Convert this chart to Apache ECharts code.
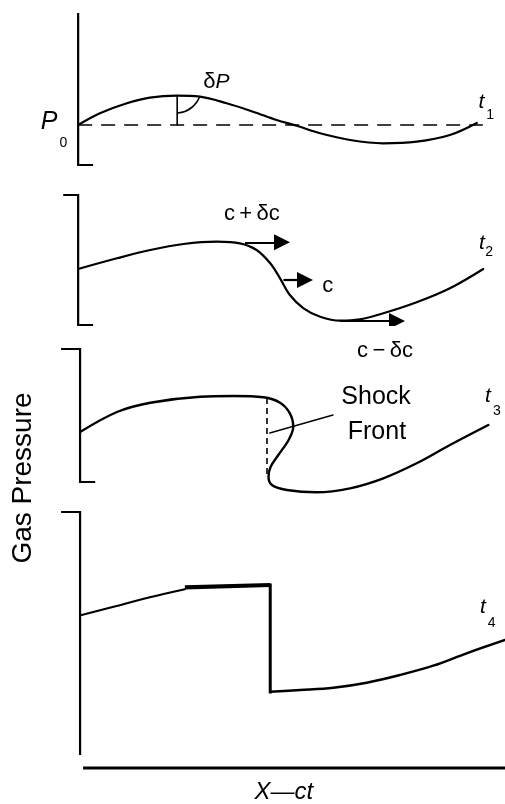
<!DOCTYPE html>
<html>
<head>
<meta charset="utf-8">
<script src="https://cdn.jsdelivr.net/npm/echarts@6/dist/echarts.min.js"></script>
<style>
  html, body { margin: 0; padding: 0; background: #ffffff; }
  #chart { width: 505px; height: 804px; }
</style>
</head>
<body>
<div id="chart"></div>
<script>
// Pressure profiles of a finite-amplitude sound wave steepening into a shock,
// plotted against X - ct at four successive times t1..t4.
// x: position (X - ct), y: gas pressure (arbitrary units, one scale per panel).

// t1: small sinusoidal disturbance about P0
const wave1 = [
  [0, 0], [5.1, 1.17], [11.4, 2.17], [16.8, 2.73], [23.1, 2.93], [28.5, 2.83],
  [34.8, 2.17], [41.0, 1.33], [46.5, 0.5], [51.2, -0.07], [56.7, -0.83],
  [63.7, -1.5], [71.4, -1.83], [79.3, -1.67], [87.1, -1.0], [93.4, 0.2]
];
const baseline1 = [[0, 0], [94.8, 0]];
const deltaPBar = [[23.2, 0], [23.2, 2.93]];
const deltaPArc = [[23.3, 1.2], [25.0, 1.35], [26.6, 1.75], [27.8, 2.3], [28.5, 2.85]];

// t2: crest overtaking the trough
const wave2 = [
  [0, 5.6], [9.1, 6.67], [16.9, 7.5], [24.7, 8.1], [32.5, 8.33], [37.9, 8.17],
  [41.8, 7.5], [45.0, 6.17], [47.3, 4.67], [49.6, 3.0], [52.8, 1.67],
  [56.7, 0.83], [61.4, 0.43], [66.0, 0.57], [71.5, 1.17], [79.3, 2.27],
  [87.1, 3.67], [94.9, 5.6]
];
// propagation-speed arrows: c + δc at the crest, c mid-slope, c − δc at the trough
const speedArrows2 = [
  [[39.1, 8.27], [47.75, 8.27]],
  [[48.1, 4.5], [53.15, 4.5]],
  [[61.3, 0.4], [74.7, 0.4]]
];

// t3: multivalued (overturned) profile and the shock front position
const wave3 = [
  [0.45, 5.0], [9.1, 7.0], [16.9, 7.93], [28.6, 8.53], [36.4, 8.6], [43.4, 8.47],
  [47.3, 7.93], [49.6, 6.87], [50.4, 5.53], [49.3, 4.2], [46.9, 2.7],
  [45.1, 1.53], [44.6, 0.53], [45.4, -0.3], [48.9, -0.8], [55.9, -1.03],
  [63.7, -0.63], [71.5, 0.37], [79.3, 1.87], [87.1, 3.7], [96.1, 5.7]
];
const shockFront3 = [[44.24, 8.4], [44.24, 0.5]];
const shockLeader3 = [[44.9, 4.9], [59.7, 6.7]];

// t4: fully formed shock
const wave4Before = [[0.83, 14.0], [9.0, 14.9], [16.8, 15.77], [25.0, 16.57]];
const plateau4 = [[25.0, 16.77], [45.0, 17.0]];
const jump4 = [[45.0, 17.0], [45.0, 6.3]];
const wave4After = [
  [45.0, 6.33], [52.0, 6.5], [59.8, 6.73], [67.6, 7.23], [75.4, 8.0],
  [83.2, 8.93], [91.0, 10.17], [100, 11.5]
];

// pressure axes of the four panels (with end ticks) and the shared X - ct axis
const pressureAxes = [
  [[0, 11.2], [0, -4], [3.5, -4]],
  [[-3.5, 13], [0, 13], [0, 0], [3.5, 0]],
  [[-4, 13.3], [0.45, 13.3], [0.45, 0], [4, 0]],
  [[-4, 24.3], [0.45, 24.3], [0.45, 0]]
];
const positionAxis = [[1.15, -1.3], [100, -1.3]];

// pressure range covered by each panel
const pressureRanges = [[-4, 11.2], [0, 13], [-1.5, 13.3], [-1.5, 24.3]];
const positionRange = [-8, 100];

// annotations: [x, y, text]
const notes1 = [
  [-6.83, 0.33, '{P|P}'], [-3.48, -1.8, '{sub|0}'],
  [32.4, 4.3, '{sym|δ}{dP|P}'],
  [94.5, 2.25, '{t|t}'], [96.5, 1.0, '{sub|1}']
];
const notes2 = [
  [40.7, 11.1, '{sym|c\u2009+\u2009δc}'],
  [58.5, 3.9, '{sym|c}'],
  [71.9, -2.6, '{sym|c\u2009\u2212\u2009δc}'],
  [94.6, 8.2, '{t|t}'], [96.3, 7.3, '{sub|2}']
];
const notes3 = [
  [69.8, 8.45, '{txt|Shock}'], [70.0, 5.0, '{txt|Front}'],
  [96.0, 8.6, '{t|t}'], [98.1, 7.1, '{sub|3}']
];
const notes4 = [
  [94.8, 14.8, '{t|t}'], [96.9, 13.2, '{sub|4}'],
  [48.2, -3.7, '{ax|X\u2014ct}']
];
const yAxisTitle = 'Gas Pressure';

const FONT = '"Liberation Sans", Arial, Helvetica, sans-serif';
const INK = '#000000';

const panelTops = [13, 195, 349, 512];
const grids = pressureRanges.map((r, i) => ({
  left: 44, width: 461, top: panelTops[i], height: (r[1] - r[0]) * 10
}));

const xAxes = grids.map((g, i) => ({
  type: 'value', gridIndex: i, min: positionRange[0], max: positionRange[1], show: false
}));
const yAxes = pressureRanges.map((r, i) => ({
  type: 'value', gridIndex: i, min: r[0], max: r[1], show: false
}));

function curve(panel, data, width, opts) {
  return Object.assign({
    type: 'line', xAxisIndex: panel, yAxisIndex: panel, data: data,
    symbol: 'none', silent: true, clip: false,
    lineStyle: { color: INK, width: width, cap: 'round', join: 'round' }
  }, opts || {});
}

const rich = {
  P: { fontFamily: FONT, fontStyle: 'italic', fontSize: 25, color: INK },
  sub: { fontFamily: FONT, fontSize: 14, color: INK },
  t: { fontFamily: FONT, fontStyle: 'italic', fontSize: 21, color: INK },
  sym: { fontFamily: FONT, fontSize: 22, color: INK },
  dP: { fontFamily: FONT, fontStyle: 'italic', fontSize: 21, color: INK },
  txt: { fontFamily: FONT, fontSize: 25, color: INK },
  ax: { fontFamily: FONT, fontStyle: 'italic', fontSize: 24, color: INK }
};

function notes(panel, list) {
  return {
    type: 'scatter', xAxisIndex: panel, yAxisIndex: panel, silent: true, clip: false,
    symbolSize: 0, itemStyle: { color: 'transparent' },
    data: list.map(n => ({ value: [n[0], n[1]], text: n[2] })),
    label: {
      show: true, position: 'inside', rich: rich,
      color: INK, opacity: 1, textBorderWidth: 0,
      formatter: p => p.data.text
    }
  };
}

const series = [
  // panel axes
  ...pressureAxes.map((a, i) => curve(i, a, 2.2, { lineStyle: { color: INK, width: 2.2, cap: 'butt', join: 'miter' } })),
  curve(3, positionAxis, 3.2, { lineStyle: { color: INK, width: 3.2, cap: 'butt' } }),

  // t1
  curve(0, baseline1, 1.6, { lineStyle: { color: INK, width: 1.6, type: [14, 9] } }),
  curve(0, wave1, 2.2, { smooth: 0.35 }),
  curve(0, deltaPBar, 1.6),
  curve(0, deltaPArc, 1.6, { smooth: 0.4 }),
  notes(0, notes1),

  // t2
  curve(1, wave2, 2.2, { smooth: 0.35 }),
  {
    type: 'lines', coordinateSystem: 'cartesian2d', xAxisIndex: 1, yAxisIndex: 1,
    silent: true, polyline: false,
    symbol: ['none', 'triangle'], symbolSize: [11, 16],
    lineStyle: { color: INK, width: 2.2, opacity: 1 },
    data: speedArrows2.map(c => ({ coords: c }))
  },
  notes(1, notes2),

  // t3
  curve(2, wave3, 2.4, { smooth: 0.35 }),
  curve(2, shockFront3, 1.6, { lineStyle: { color: INK, width: 1.6, type: [6, 4] } }),
  curve(2, shockLeader3, 1.3),
  notes(2, notes3),

  // t4
  curve(3, wave4Before, 2.2, { smooth: 0.35 }),
  curve(3, plateau4, 4.2, { lineStyle: { color: INK, width: 4.2, cap: 'butt' } }),
  curve(3, jump4, 3, { lineStyle: { color: INK, width: 3, cap: 'square' } }),
  curve(3, wave4After, 2.4, { smooth: 0.35 }),
  notes(3, notes4)
];

const chart = echarts.init(document.getElementById('chart'), null, { renderer: 'canvas' });
chart.setOption({
  animation: false,
  backgroundColor: '#ffffff',
  grid: grids,
  xAxis: xAxes,
  yAxis: yAxes,
  series: series,
  graphic: [{
    type: 'text', x: 23, y: 478, rotation: Math.PI / 2,
    style: {
      text: yAxisTitle, fill: INK, font: '28px ' + FONT,
      align: 'center', verticalAlign: 'middle'
    }
  }]
});
</script>
</body>
</html>
